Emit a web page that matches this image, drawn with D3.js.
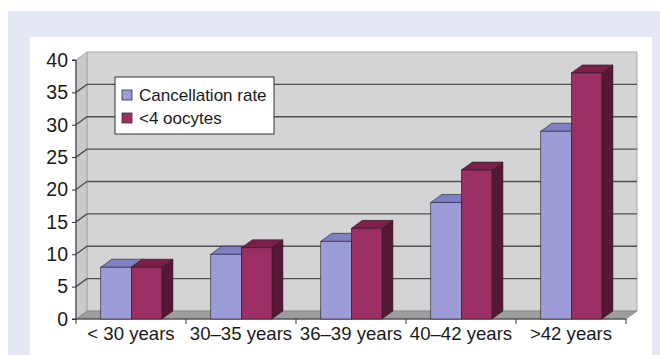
<!DOCTYPE html>
<html>
<head>
<meta charset="utf-8">
<script src="https://cdn.jsdelivr.net/npm/d3@7"></script>
<style>
  html, body { margin: 0; padding: 0; background: #ffffff; }
  svg { display: block; font-family: "Liberation Sans", Arial, sans-serif; }
</style>
</head>
<body>
<svg id="chart" width="660" height="355"></svg>
<script>
// Age groups and the two series (percent)
const categories = ["< 30 years", "30–35 years", "36–39 years", "40–42 years", ">42 years"];
const cancellationRate = [8, 10, 12, 18, 29];
const lowOocytes = [8, 11, 14, 23, 38];
const seriesNames = ["Cancellation rate", "<4 oocytes"];
const yTicks = [0, 5, 10, 15, 20, 25, 30, 35, 40];

(function () {
const svg = d3.select("#chart");

// Framing panels
svg.append("rect").attr("x", 8).attr("y", 11).attr("width", 652).attr("height", 344).attr("fill", "#e4e9f5");
svg.append("rect").attr("x", 30).attr("y", 37).attr("width", 622).attr("height", 318).attr("fill", "#ffffff");

// Front plane of the 3-D plot and the depth offset of the walls
const plotLeft = 76, plotRight = 626, plotBottom = 319, plotTop = 60;
const dx = 11, dy = -8;

const x = d3.scaleBand().domain(categories).range([plotLeft, plotRight]).paddingInner(0).paddingOuter(0);
const y = d3.scaleLinear().domain([0, 40]).range([plotBottom, plotTop]);

const g = svg.append("g");

// Back wall
g.append("path")
  .attr("d", `M${plotLeft + dx},${y(40) + dy}H${plotRight + dx}V${y(0) + dy}H${plotLeft + dx}Z`)
  .attr("fill", "#d4d4d6").attr("stroke", "#a8a8a8").attr("stroke-width", 1);
// Side wall
g.append("path")
  .attr("d", `M${plotLeft},${y(40)}L${plotLeft + dx},${y(40) + dy}V${y(0) + dy}L${plotLeft},${y(0)}Z`)
  .attr("fill", "#cacacc").attr("stroke", "#a8a8a8").attr("stroke-width", 1);
// Floor
g.append("path")
  .attr("d", `M${plotLeft},${y(0)}L${plotLeft + dx},${y(0) + dy}H${plotRight + dx}L${plotRight},${y(0)}Z`)
  .attr("fill", "#9d9d9f").attr("stroke", "#8a8a8a").attr("stroke-width", 0.8);

// Gridlines wrapping from the side wall onto the back wall
g.selectAll("path.grid")
  .data(yTicks.filter(t => t > 0 && t < 40))
  .join("path")
  .attr("class", "grid")
  .attr("d", t => `M${plotLeft},${y(t)}L${plotLeft + dx},${y(t) + dy}H${plotRight + dx}`)
  .attr("fill", "none").attr("stroke", "#505052").attr("stroke-width", 1.3);

// Value axis on the front plane
const yAxis = d3.axisLeft(y).tickValues(yTicks).tickSize(4).tickPadding(4);
const ya = g.append("g").attr("transform", `translate(${plotLeft},0)`).call(yAxis);
ya.select(".domain").attr("stroke", "#333").attr("stroke-width", 1).attr("d", `M-4,${y(40)}H0V${y(0)}H-4`);
ya.selectAll(".tick line").attr("stroke", "#333");
ya.selectAll(".tick text").attr("fill", "#1a1a1a").attr("font-size", 19.5).attr("font-family", "Liberation Sans, Arial, sans-serif");

// Category axis on the front plane
const xa = g.append("g").attr("transform", `translate(0,${plotBottom})`);
xa.append("path").attr("d", `M${plotLeft},0H${plotRight}`).attr("stroke", "#333").attr("stroke-width", 1);
xa.selectAll("line.tk")
  .data(d3.range(categories.length + 1))
  .join("line").attr("class", "tk")
  .attr("x1", i => plotLeft + i * x.bandwidth()).attr("x2", i => plotLeft + i * x.bandwidth())
  .attr("y1", 0).attr("y2", 5).attr("stroke", "#333");
xa.selectAll("text")
  .data(categories)
  .join("text")
  .attr("x", d => x(d) + x.bandwidth() / 2)
  .attr("y", 21)
  .attr("text-anchor", "middle")
  .attr("font-size", 18.6)
  .attr("fill", "#1a1a1a")
  .text(d => d);

// 3-D columns
const colors = [
  { front: "#9c9cd8", top: "#7f80c4", side: "#6a6aa8" },
  { front: "#9b2e62", top: "#7a2049", side: "#561735" }
];
const barW = x.bandwidth() * 0.278;
const gapL = x.bandwidth() * 0.225;

const bars = [];
categories.forEach((c, i) => {
  [cancellationRate[i], lowOocytes[i]].forEach((v, s) => {
    bars.push({ c, v, s, x0: x(c) + gapL + s * barW });
  });
});

const bg = g.append("g");
bars.forEach(b => {
  const x0 = b.x0, x1 = b.x0 + barW, yt = y(b.v), yb = y(0);
  const col = colors[b.s];
  const bar = bg.append("g");
  bar.append("path")
    .attr("d", `M${x1},${yt}L${x1 + dx},${yt + dy}V${yb + dy}L${x1},${yb}Z`)
    .attr("fill", col.side).attr("stroke", "#2a1a25").attr("stroke-width", 0.6);
  bar.append("path")
    .attr("d", `M${x0},${yt}L${x0 + dx},${yt + dy}H${x1 + dx}L${x1},${yt}Z`)
    .attr("fill", col.top).attr("stroke", "#2a1a25").attr("stroke-width", 0.6);
  bar.append("rect")
    .attr("x", x0).attr("y", yt).attr("width", barW).attr("height", yb - yt)
    .attr("fill", col.front).attr("stroke", "#2a1a25").attr("stroke-width", 0.6);
});

// Legend
const lg = svg.append("g").attr("transform", "translate(115,77)");
lg.append("rect").attr("width", 159).attr("height", 57).attr("fill", "#ffffff").attr("stroke", "#333").attr("stroke-width", 1);
seriesNames.forEach((name, i) => {
  lg.append("rect").attr("x", 7).attr("y", 13 + i * 23).attr("width", 10).attr("height", 10)
    .attr("fill", colors[i].front).attr("stroke", "#333").attr("stroke-width", 0.8);
  lg.append("text").attr("x", 24).attr("y", 24 + i * 23).attr("font-size", 17).attr("fill", "#1a1a1a").text(name);
});
})();
</script>
</body>
</html>
